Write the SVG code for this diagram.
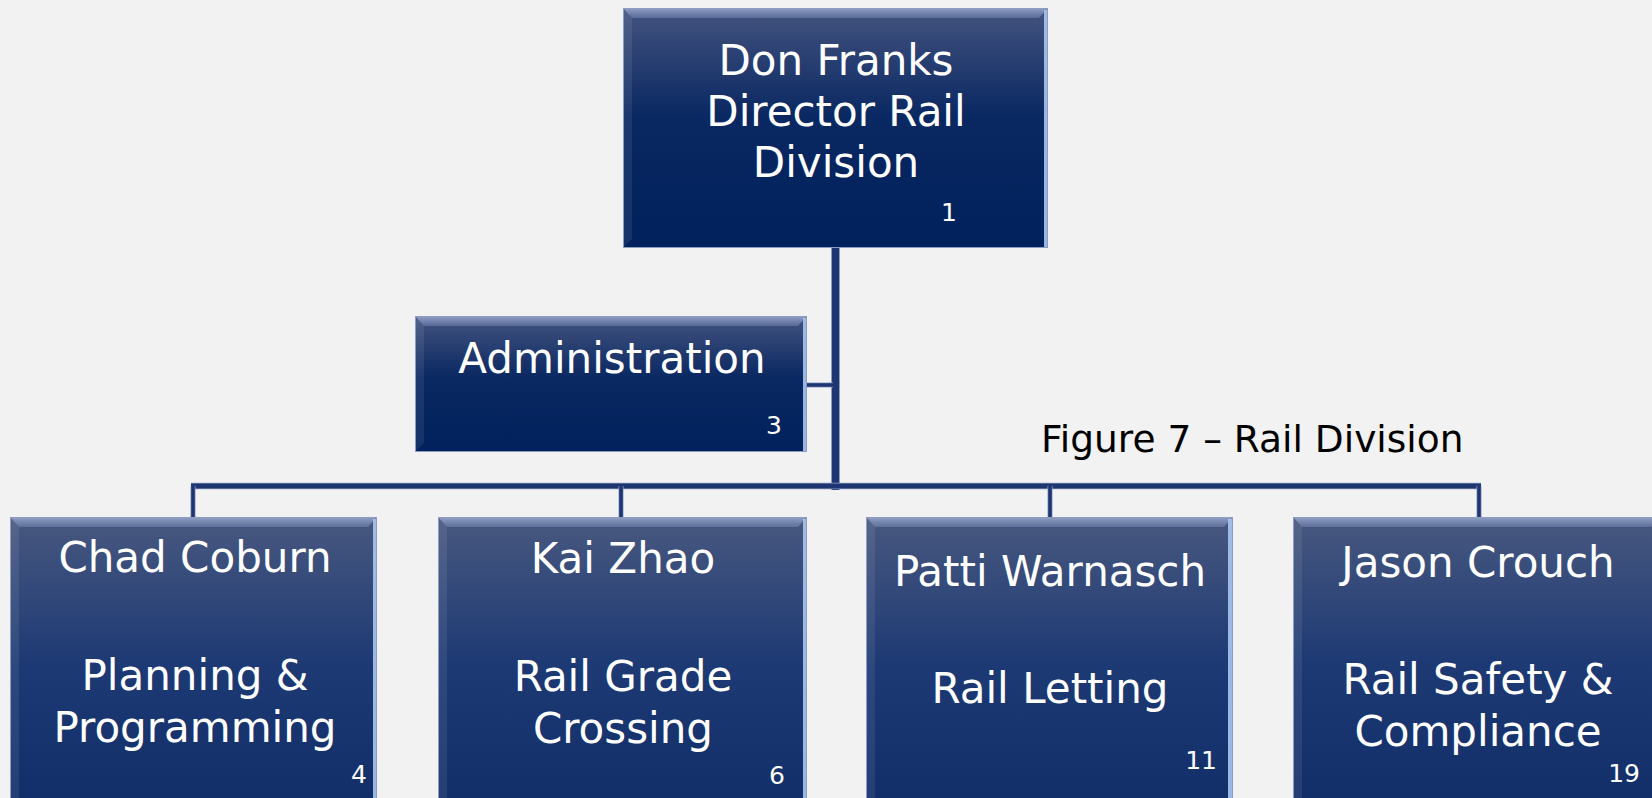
<svg xmlns="http://www.w3.org/2000/svg" width="1652" height="798" viewBox="0 0 1652 798">
<defs>
<linearGradient id="gTop" x1="0" y1="0" x2="0" y2="1">
<stop offset="0" stop-color="#44547f"/>
<stop offset="0.45" stop-color="#0a2862"/>
<stop offset="1" stop-color="#00215c"/>
</linearGradient>
<linearGradient id="gBot" x1="0" y1="0" x2="0" y2="1">
<stop offset="0" stop-color="#48587f"/>
<stop offset="0.5" stop-color="#1e3a74"/>
<stop offset="1" stop-color="#122e68"/>
</linearGradient>
<linearGradient id="gBevel" x1="0" y1="0" x2="0" y2="1">
<stop offset="0" stop-color="#c8d4f4" stop-opacity="0.6"/>
<stop offset="1" stop-color="#9aaee0" stop-opacity="0.3"/>
</linearGradient>
</defs>
<style>
.bg{fill:#f2f2f2}
.edge{fill:none;stroke:#8e9cc0;stroke-width:1}
.bev{fill:url(#gBevel)}
.lbev{fill:#ffffff;fill-opacity:0.08}
.rbev{fill:#a9c6f2;fill-opacity:0.9}
.t{font-family:"DejaVu Sans","Verdana",sans-serif;fill:#ffffff;font-size:42px;text-anchor:middle}
.n{font-family:"DejaVu Sans","Verdana",sans-serif;fill:#ffffff;font-size:25px;text-anchor:end}
.cap{font-family:"DejaVu Sans","Verdana",sans-serif;fill:#000000;font-size:37.5px}
.lnh{stroke:#8d9bc0;fill:none;stroke-linecap:butt}
.ln{stroke:#1d3570;fill:none;stroke-linecap:butt}
</style>
<rect class="bg" x="0" y="0" width="1652" height="798"/>

<g id="connectors">
<line class="lnh" x1="835.5" y1="248" x2="835.5" y2="490" stroke-width="9"/>
<line class="ln" x1="835.5" y1="248" x2="835.5" y2="490" stroke-width="7"/>
<line class="lnh" x1="807" y1="385" x2="833" y2="385" stroke-width="5"/>
<line class="ln" x1="807" y1="385" x2="833" y2="385" stroke-width="3.5"/>
<line class="lnh" x1="191" y1="486" x2="1481" y2="486" stroke-width="6.5"/>
<line class="ln" x1="191" y1="486" x2="1481" y2="486" stroke-width="5"/>
<line class="lnh" x1="193" y1="486" x2="193" y2="518" stroke-width="5"/>
<line class="ln" x1="193" y1="486" x2="193" y2="518" stroke-width="3.5"/>
<line class="lnh" x1="621" y1="486" x2="621" y2="518" stroke-width="5"/>
<line class="ln" x1="621" y1="486" x2="621" y2="518" stroke-width="3.5"/>
<line class="lnh" x1="1050" y1="486" x2="1050" y2="518" stroke-width="5"/>
<line class="ln" x1="1050" y1="486" x2="1050" y2="518" stroke-width="3.5"/>
<line class="lnh" x1="1479" y1="486" x2="1479" y2="518" stroke-width="5"/>
<line class="ln" x1="1479" y1="486" x2="1479" y2="518" stroke-width="3.5"/>
</g>

<g id="node-director">
<rect x="623" y="8" width="425" height="240" fill="url(#gTop)"/>
<polygon class="bev" points="623,8 1048,8 1039,18 632,18"/>
<polygon class="lbev" points="623,8 632,18 632,239 623,248"/>
<rect class="rbev" x="1044" y="10" width="4" height="238"/>
<rect class="edge" x="623.5" y="8.5" width="424" height="239"/>
<text class="t" x="836" y="75">Don Franks</text>
<text class="t" x="836" y="126">Director Rail</text>
<text class="t" x="836" y="177">Division</text>
<text class="n" x="957" y="221">1</text>
</g>

<g id="node-admin">
<rect x="415" y="316" width="392" height="136" fill="url(#gTop)"/>
<polygon class="bev" points="415,316 807,316 798,326 424,326"/>
<polygon class="lbev" points="415,316 424,326 424,443 415,452"/>
<rect class="rbev" x="803" y="318" width="4" height="134"/>
<rect class="edge" x="415.5" y="316.5" width="391" height="135"/>
<text class="t" x="612" y="373">Administration</text>
<text class="n" x="782" y="434">3</text>
</g>

<g id="node-chad">
<rect x="10" y="517" width="367" height="290" fill="url(#gBot)"/>
<polygon class="bev" points="10,517 377,517 368,527 19,527"/>
<polygon class="lbev" points="10,517 19,527 19,798 10,798"/>
<rect class="rbev" x="373" y="519" width="4" height="279"/>
<rect class="edge" x="10.5" y="517.5" width="366" height="290"/>
<text class="t" x="195" y="572">Chad Coburn</text>
<text class="t" x="195" y="690">Planning &amp;</text>
<text class="t" x="195" y="742">Programming</text>
<text class="n" x="367" y="783">4</text>
</g>

<g id="node-kai">
<rect x="438" y="517" width="369" height="290" fill="url(#gBot)"/>
<polygon class="bev" points="438,517 807,517 798,527 447,527"/>
<polygon class="lbev" points="438,517 447,527 447,798 438,798"/>
<rect class="rbev" x="803" y="519" width="4" height="279"/>
<rect class="edge" x="438.5" y="517.5" width="368" height="290"/>
<text class="t" x="623" y="573">Kai Zhao</text>
<text class="t" x="623" y="691">Rail Grade</text>
<text class="t" x="623" y="743">Crossing</text>
<text class="n" x="785" y="784">6</text>
</g>

<g id="node-patti">
<rect x="866" y="517" width="367" height="290" fill="url(#gBot)"/>
<polygon class="bev" points="866,517 1233,517 1224,527 875,527"/>
<polygon class="lbev" points="866,517 875,527 875,798 866,798"/>
<rect class="rbev" x="1228" y="519" width="5" height="279"/>
<rect class="edge" x="866.5" y="517.5" width="366" height="290"/>
<text class="t" x="1050" y="586">Patti Warnasch</text>
<text class="t" x="1050" y="703">Rail Letting</text>
<text class="n" x="1217" y="769">11</text>
</g>

<g id="node-jason">
<rect x="1293" y="517" width="367" height="290" fill="url(#gBot)"/>
<polygon class="bev" points="1293,517 1660,517 1651,527 1302,527"/>
<polygon class="lbev" points="1293,517 1302,527 1302,798 1293,798"/>
<rect class="edge" x="1293.5" y="517.5" width="366" height="290"/>
<text class="t" x="1478" y="577">Jason Crouch</text>
<text class="t" x="1478" y="694">Rail Safety &amp;</text>
<text class="t" x="1478" y="746">Compliance</text>
<text class="n" x="1640" y="782">19</text>
</g>

<text class="cap" x="1041" y="452">Figure 7 – Rail Division</text>
</svg>
